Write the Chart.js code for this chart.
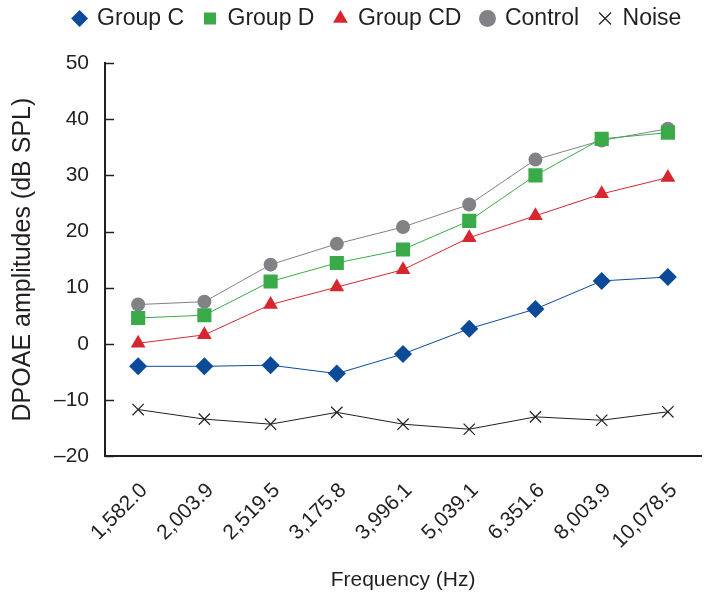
<!DOCTYPE html>
<html>
<head>
<meta charset="utf-8">
<script src="https://cdn.jsdelivr.net/npm/chart.js@4"></script>
<style>
  html, body { margin: 0; padding: 0; background: #fff; }
  #wrap { width: 711px; height: 594px; }
</style>
</head>
<body>
<div id="wrap"><canvas id="dpoaeChart" width="711" height="594"></canvas></div>
<script>
const freqLabels = ['1,582.0', '2,003.9', '2,519.5', '3,175.8', '3,996.1', '5,039.1', '6,351.6', '8,003.9', '10,078.5'];
const groupC = [-4.0, -4.0, -3.8, -5.3, -1.8, 2.7, 6.2, 11.2, 11.9];
const groupD = [4.6, 5.1, 11.1, 14.4, 16.8, 21.9, 30.0, 36.5, 37.6];
const groupCD = [0.1, 1.6, 7.0, 10.1, 13.2, 18.9, 22.8, 26.7, 29.6];
const control = [7.0, 7.5, 14.1, 17.8, 20.8, 24.8, 32.8, 36.2, 38.3];
const noise = [-11.7, -13.4, -14.3, -12.2, -14.3, -15.2, -13.0, -13.6, -12.1];

const font = "'Liberation Sans', Arial, sans-serif";
Chart.defaults.font.family = font;
Chart.defaults.color = '#231f20';

// ticks on the y axis point inward, as in the original figure
const innerTicks = {
  id: 'innerTicks',
  afterDraw(chart) {
    const y = chart.scales.y;
    const c = chart.ctx;
    c.save();
    c.strokeStyle = '#231f20';
    c.lineWidth = 1.5;
    y.ticks.forEach(t => {
      const py = Math.round(y.getPixelForValue(t.value)) + 0.5;
      c.beginPath();
      c.moveTo(y.right, py);
      c.lineTo(y.right + 9, py);
      c.stroke();
    });
    c.restore();
  }
};

// legend sits higher and a bit right, with room below it
const legendGap = {
  id: 'legendGap',
  beforeInit(chart) {
    const fit = chart.legend.fit;
    chart.legend.fit = function () {
      fit.bind(chart.legend)();
      this.height += 10;
    };
  },
  afterLayout(chart) {
    chart.legend.top -= 13;
    chart.legend.left += 22;
    chart.legend.right += 22;
  }
};

function series(label, data, color, style, radius) {
  return {
    label: label,
    data: data,
    borderColor: color,
    backgroundColor: color,
    pointStyle: style,
    pointRadius: radius,
    pointHoverRadius: radius,
    borderWidth: 1,
    pointBorderWidth: style === 'crossRot' ? 1.2 : 0,
    tension: 0,
    fill: false
  };
}

new Chart(document.getElementById('dpoaeChart').getContext('2d'), {
  type: 'line',
  data: {
    labels: freqLabels,
    datasets: [
      series('Group C', groupC, '#0b4a98', 'rectRot', 9),
      series('Group D', groupD, '#3aaa48', 'rect', 10),
      series('Group CD', groupCD, '#d7262e', 'triangle', 8.5),
      series('Control', control, '#818285', 'circle', 7),
      series('Noise', noise, '#231f20', 'crossRot', 8)
    ]
  },
  plugins: [innerTicks, legendGap],
  options: {
    responsive: false,
    animation: false,
    layout: { padding: { left: 8, right: 8, top: 0, bottom: 1 } },
    plugins: {
      legend: {
        display: true,
        position: 'top',
        labels: {
          usePointStyle: true,
          boxHeight: 12,
          boxWidth: 12,
          padding: 20,
          font: { size: 23 },
          color: '#231f20'
        }
      },
      tooltip: { enabled: false }
    },
    scales: {
      x: {
        offset: true,
        grid: { display: false },
        border: { display: true, color: '#231f20', width: 2 },
        ticks: {
          minRotation: 45,
          maxRotation: 45,
          padding: 14,
          labelOffset: 6,
          font: { size: 21 },
          color: '#231f20'
        },
        title: { display: true, text: 'Frequency (Hz)', font: { size: 21 }, color: '#231f20', padding: { top: 0, bottom: 0 } }
      },
      y: {
        min: -20,
        max: 50,
        grid: { display: false, drawTicks: false },
        border: { display: true, color: '#231f20', width: 2 },
        ticks: {
          stepSize: 10,
          padding: 16,
          font: { size: 21 },
          color: '#231f20',
          callback: v => (v < 0 ? '\u2013' + Math.abs(v) : String(v))
        },
        title: { display: true, text: 'DPOAE amplitudes (dB SPL)', font: { size: 25 }, color: '#231f20', padding: { top: 0, bottom: 0 } }
      }
    }
  }
});
</script>
</body>
</html>
